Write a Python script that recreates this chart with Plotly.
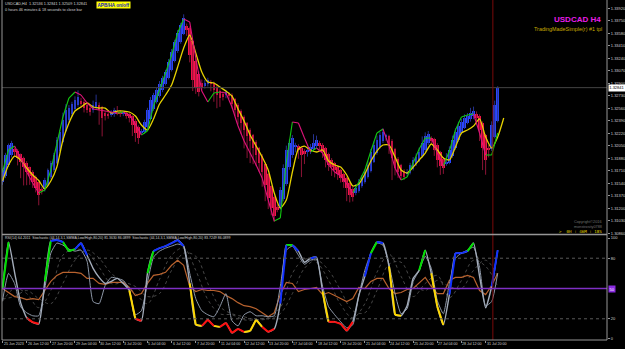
import plotly.graph_objects as go

# ---------------- DATA ----------------
first_open = 1.31560
closes = [1.31721,1.31925,1.32061,1.32088,1.31966,1.31884,1.31830,1.31761,1.31694,1.31639,
          1.31558,1.31477,1.31381,1.31449,1.31585,1.31721,1.31816,1.31925,1.32129,1.32238,
          1.32401,1.32537,1.32564,1.32619,1.32673,1.32714,1.32619,1.32564,1.32537,1.32510,
          1.32605,1.32646,1.32537,1.32428,1.32455,1.32469,1.32496,1.32537,1.32496,1.32483,
          1.32496,1.32469,1.32428,1.32333,1.32224,1.32156,1.32238,1.32374,1.32537,1.32673,
          1.32741,1.32809,1.32891,1.32972,1.33054,1.33190,1.33326,1.33462,1.33584,1.33693,
          1.33788,1.33625,1.33285,1.32945,1.32836,1.32782,1.32836,1.32904,1.32945,1.32891,
          1.32809,1.32741,1.32700,1.32727,1.32782,1.32727,1.32619,1.32537,1.32442,1.32360,
          1.32265,1.32183,1.32115,1.32020,1.31925,1.31816,1.31694,1.31517,1.31340,1.31204,
          1.31095,1.31177,1.31449,1.31748,1.31993,1.32088,1.32156,1.32061,1.31993,1.31925,
          1.31952,1.31993,1.32034,1.32088,1.32129,1.32047,1.31966,1.31857,1.31789,1.31761,
          1.31721,1.31667,1.31612,1.31558,1.31477,1.31381,1.31353,1.31477,1.31558,1.31612,
          1.31694,1.31789,1.31966,1.32061,1.32129,1.32197,1.32238,1.32183,1.32061,1.31884,
          1.31748,1.31694,1.31639,1.31626,1.31694,1.31789,1.31857,1.31898,1.31966,1.32088,
          1.32183,1.32211,1.32129,1.31993,1.31857,1.31775,1.31748,1.31830,1.31993,1.32129,
          1.32238,1.32319,1.32374,1.32428,1.32455,1.32496,1.32523,1.32428,1.32265,1.32020,
          1.31857,1.31993,1.32333,1.32605,1.32841]
# wick lengths in pips beyond the body
wick_up = [2,3,2,3,2,2,1,2,2,1, 2,2,1,2,3,2,3,3,4,3, 10,8,4,3,5,9,4,3,2,3,
           6,10,3,2,2,3,4,3,8,3, 2,2,2,1,2,2,4,3,3,4, 3,3,4,3,3,4,4,3,4,3,
           5,3,2,2,3,4,5,4,3,3, 2,3,2,4,3,2,2,2,2,2, 2,2,2,2,2,2,2,2,2,1,
           2,3,4,5,6,5,4,3,2,2, 3,3,4,12,6,3,2,2,2,2, 2,2,2,2,2,2,3,5,4,4,
           4,5,4,5,6,4,5,3,2,2, 2,2,2,2,4,3,4,5,6,9, 5,4,3,2,2,2,3,12,5,6,
           5,6,4,5,4,7,6,3,2,2, 2,4,5,6,2]
wick_dn = [4,3,2,3,6,10,22,25,18,12, 8,6,14,6,3,2,2,2,2,2, 2,2,3,3,2,3,5,6,4,5,
           4,3,20,25,6,5,3,4,3,4, 4,5,6,15,12,8,3,2,2,2, 2,2,2,3,2,2,2,2,2,2,
           2,8,10,15,8,6,3,4,3,10, 16,18,12,6,4,4,6,8,10,15, 25,30,30,22,15,12,20,22,15,10,
           8,3,2,3,3,4,4,8,12,30, 15,6,4,3,3,6,8,10,8,12, 10,8,6,8,18,10,6,3,3,2,
           2,2,2,2,2,3,3,6,12,30, 10,8,4,4,3,2,2,2,2,2, 3,3,5,8,10,12,8,3,2,2,
           2,2,2,2,2,3,4,8,15,30, 20,10,3,2,2]

# fast line (green rising / magenta falling), every 2nd bar
fast_line = [1.31694,1.31993,1.32047,1.31884,1.31694,1.31545,1.31408,1.31449,1.31721,1.32075,
             1.32442,1.32700,1.32782,1.32741,1.32632,1.32551,1.32537,1.32523,1.32510,1.32496,
             1.32510,1.32469,1.32347,1.32197,1.32251,1.32591,1.32809,1.33040,1.33285,1.33584,
             1.33775,1.33734,1.33244,1.32795,1.32646,1.32768,1.32782,1.32768,1.32578,1.32319,
             1.32115,1.31952,1.31789,1.31612,1.31313,1.31027,1.31068,1.31830,1.32374,1.32360,
             1.32156,1.31966,1.32020,1.31952,1.31789,1.31694,1.31639,1.31531,1.31408,1.31558,
             1.31721,1.31979,1.32224,1.32279,1.32047,1.31748,1.31585,1.31626,1.31816,1.32007,
             1.32156,1.32156,1.31952,1.31775,1.31979,1.32265,1.32442,1.32469,1.32483,1.32224,
             1.31925,1.31925,1.32224]
# slow (yellow) line, every 2nd bar, shifted 2 bars beyond the last candle
slow_line = [1.31571,1.31789,1.31911,1.31857,1.31748,1.31653,1.31578,1.31463,1.31571,1.31761,
             1.32129,1.32360,1.32523,1.32578,1.32632,1.32578,1.32564,1.32564,1.32496,1.32523,
             1.32523,1.32510,1.32455,1.32333,1.32265,1.32415,1.32619,1.32741,1.32877,1.33122,
             1.33380,1.33557,1.33312,1.33054,1.32918,1.32904,1.32850,1.32795,1.32727,1.32551,
             1.32387,1.32197,1.32047,1.31898,1.31721,1.31408,1.31204,1.31313,1.31694,1.32007,
             1.32047,1.31993,1.31966,1.31993,1.31843,1.31789,1.31761,1.31653,1.31504,1.31531,
             1.31667,1.31843,1.31979,1.32061,1.32061,1.31898,1.31721,1.31680,1.31761,1.31857,
             1.31952,1.32075,1.31993,1.31884,1.31857,1.32034,1.32224,1.32265,1.32319,1.32415,
             1.32170,1.32020,1.32170,1.32428]

# oscillator pane (every 2nd bar)
stoch_main = [50,96,66,36,21,16.5,15,57,97,98, 96,87,89,95,83,70,61,55,57,60,
              55,48,20,18,65,87,90,92,95,98, 92,55,14,13,19,13,12,16,6,10,
              7,8,19,12,7,10,35,93,93,87, 76,80,81,47,17,17,15,8,17,43,
              62,85,96,95,72,24,23,33,60,68, 88,65,32,14,44,85,85,87,95,62,
              31,52,88]
stoch_state = list("wgwwwrrwgb" "bggbbwwwww" "wwyrwgbbbb" "bwyyrryrrr"
                   "ryyyrrwbgb" "wwbwyrrrrw" "wbgbwyywww" "gwyywbbbgw" "wwb")
stoch_second = [38,65,55,32,26,23,23,50,85,95, 93,89,87,88,77,37,35,53,61,60,
                58,49,24,28,56,81,87,90,92,94, 92,65,40,28,24,22,32,45,18,13,
                24,27,23,23,22,23,52,88,92,83, 74,78,79,52,32,24,17,11,14,43,
                68,85,95,93,74,45,25,30,57,68, 82,70,38,25,55,80,85,88,91,71,
                33,37,65]
rsi = [50,46,42,41,39,40,39,48,57,63, 66,66,66,65,60,60,55,54,56,56,
       56,51,43,45,55,63,64,66,73,78, 73,52,47,49,48,48,47,43,40,36,
       33,32,30,26,22,26,44,56,55,47, 49,50,51,44,46,43,40,37,40,51,
       50,57,60,60,50,45,46,49,50,56, 61,52,45,45,58,61,61,63,61,48,
       44,53,65]
# signal (dotted) lines, every 4th bar
signal_a = [37,50,45,31,48,83,89,86,71,55,55,45,35,59,83,90,68,39,25,24,19,
            19,22,31,65,79,76,58,34,21,35,66,84,62,42,55,63,41,58,78,72,52]
signal_b = [40,42,48,40,35,55,78,88,80,65,57,52,42,45,68,85,82,55,32,25,22,
            19,20,25,45,70,78,68,48,28,26,48,74,76,55,48,58,52,50,68,78,62]

price_ticks = [1.33920,1.33750,1.33580,1.33410,1.33240,1.33070,1.32900,1.32730,1.32560,
               1.32390,1.32220,1.32050,1.31880,1.31710,1.31540,1.31370,1.31200,1.31030,1.30860]
current_price = 1.32841
osc_ticks = [0, 20, 80, 100]
date_labels = ["25 Jun 2023","26 Jun 12:00","27 Jun 20:00","29 Jun 04:00","30 Jun 12:00",
               "3 Jul 20:00","5 Jul 04:00","6 Jul 12:00","7 Jul 20:00","11 Jul 04:00",
               "12 Jul 12:00","13 Jul 20:00","17 Jul 04:00","18 Jul 12:00","19 Jul 20:00",
               "21 Jul 04:00","24 Jul 12:00","25 Jul 20:00","27 Jul 04:00","28 Jul 12:00",
               "31 Jul 20:00"]
label_step = 8
vline_bar = 162.4

# ---------------- BUILD ----------------
n = len(closes)
bars = list(range(n))
opens = [first_open]
for i in range(1, n):
    opens.append((opens[i - 1] + closes[i - 1]) / 2)   # APB / Heiken-Ashi open
PIP = 0.0001
highs = [max(o, c) + w * PIP for o, c, w in zip(opens, closes, wick_up)]
lows = [min(o, c) - w * PIP for o, c, w in zip(opens, closes, wick_dn)]
up = [c >= o for o, c in zip(opens, closes)]

UP_BODY, DN_BODY = "#2a46ff", "#f5124c"
UP_WICK, DN_WICK = "#26328f", "#8c1436"

fig = go.Figure()

for flag, col in ((True, UP_WICK), (False, DN_WICK)):
    xs, ys = [], []
    for i in bars:
        if up[i] == flag:
            xs += [i, i, None]
            ys += [lows[i], highs[i], None]
    fig.add_trace(go.Scatter(x=xs, y=ys, mode="lines", line=dict(color=col, width=1),
                             xaxis="x", yaxis="y", hoverinfo="skip"))

fig.add_trace(go.Bar(x=bars, y=[max(abs(c - o), 0.00006) for o, c in zip(opens, closes)],
                     base=[min(o, c) for o, c in zip(opens, closes)],
                     marker=dict(color=[UP_BODY if u else DN_BODY for u in up], line=dict(width=0)),
                     width=0.86, xaxis="x", yaxis="y"))

ma_bars = list(range(0, 2 * len(slow_line), 2))
fig.add_trace(go.Scatter(x=ma_bars, y=slow_line, mode="lines",
                         line=dict(color="#e6d200", width=1.3, shape="spline", smoothing=0.6),
                         xaxis="x", yaxis="y"))

fb = list(range(0, 2 * len(fast_line), 2))
for rising, col in ((True, "#12c812"), (False, "#e0137c")):
    xs, ys = [], []
    for j in range(len(fast_line) - 1):
        if (fast_line[j + 1] >= fast_line[j]) == rising:
            xs += [fb[j], fb[j + 1], None]
            ys += [fast_line[j], fast_line[j + 1], None]
    fig.add_trace(go.Scatter(x=xs, y=ys, mode="lines", line=dict(color=col, width=1.1),
                             xaxis="x", yaxis="y"))

# oscillator pane
ob = list(range(0, 2 * len(stoch_main), 2))
sb = list(range(0, 4 * len(signal_a), 4))
for sig in (signal_a, signal_b):
    fig.add_trace(go.Scatter(x=sb, y=sig, mode="lines",
                             line=dict(color="#4e4e4e", width=0.9, dash="dot", shape="spline"),
                             xaxis="x", yaxis="y2"))
fig.add_trace(go.Scatter(x=ob, y=rsi, mode="lines", line=dict(color="#b8622e", width=1.2),
                         xaxis="x", yaxis="y2"))
fig.add_trace(go.Scatter(x=ob, y=stoch_second, mode="lines",
                         line=dict(color="#8e98a8", width=1, shape="spline", smoothing=0.5),
                         xaxis="x", yaxis="y2"))
fig.add_trace(go.Scatter(x=ob, y=stoch_main, mode="lines",
                         line=dict(color="#a3acba", width=1.4, shape="spline", smoothing=0.5),
                         xaxis="x", yaxis="y2"))
state_col = {"g": "#00e000", "b": "#1030ff", "y": "#ffd800", "r": "#ff1010"}
for st, col in state_col.items():
    xs, ys = [], []
    for j in range(len(stoch_main) - 1):
        if stoch_state[j + 1] == st:
            xs += [ob[j], ob[j + 1], None]
            ys += [stoch_main[j], stoch_main[j + 1], None]
    fig.add_trace(go.Scatter(x=xs, y=ys, mode="lines", line=dict(color=col, width=2),
                             xaxis="x", yaxis="y2"))

GRID = "#969696"
TXT = "#d0d0d0"
FONT = "Liberation Sans, Arial, sans-serif"
top_dom = [0.3118, 1.0]
bot_dom = [0.0, 0.3059]

shapes = [
    dict(type="line", xref="paper", yref="y", x0=0, x1=1, y0=current_price, y1=current_price,
         line=dict(color="#444444", width=1)),
    dict(type="line", xref="x", yref="paper", x0=vline_bar, x1=vline_bar, y0=0, y1=1,
         line=dict(color="#7a0a0a", width=1)),
    dict(type="line", xref="paper", yref="y2", x0=0, x1=1, y0=80, y1=80,
         line=dict(color="#5a5a5a", width=1, dash="dot")),
    dict(type="line", xref="paper", yref="y2", x0=0, x1=1, y0=20, y1=20,
         line=dict(color="#5a5a5a", width=1, dash="dot")),
    dict(type="line", xref="paper", yref="y2", x0=0, x1=1, y0=50, y1=50,
         line=dict(color="#7e2fc4", width=1.6)),
    dict(type="line", xref="paper", yref="paper", x0=0, x1=0, y0=0, y1=1, line=dict(color=GRID, width=1)),
    dict(type="line", xref="paper", yref="paper", x0=1, x1=1, y0=0, y1=1, line=dict(color=GRID, width=1)),
    dict(type="line", xref="paper", yref="paper", x0=0, x1=1, y0=0, y1=0, line=dict(color=GRID, width=1)),
    dict(type="line", xref="paper", yref="paper", x0=0, x1=1, y0=0.3102, y1=0.3102,
         line=dict(color=GRID, width=1.5)),
]

ann = []
for k, lab in enumerate(date_labels):
    ann.append(dict(x=k * label_step, xref="x", y=-0.0125, yref="paper", text=lab,
                    showarrow=False, xanchor="left", yanchor="middle", xshift=-1,
                    font=dict(size=3.6, color=TXT, family=FONT)))
ann += [
    dict(x=0.0017, y=0.9885, xref="paper", yref="paper", xanchor="left", yanchor="middle",
         text="USDCAD,H4  1.32536 1.32841 1.32509 1.32841", showarrow=False,
         font=dict(size=3.8, color=TXT, family=FONT)),
    dict(x=0.0017, y=0.9705, xref="paper", yref="paper", xanchor="left", yanchor="middle",
         text="0 hours 46 minutes & 18 seconds to close bar", showarrow=False,
         font=dict(size=3.8, color=TXT, family=FONT)),
    dict(x=0.155, y=0.9855, xref="paper", yref="paper", xanchor="left", yanchor="middle",
         text="<b>APB/HA on/off</b>", showarrow=False, bgcolor="#ffff00", borderpad=0.5,
         font=dict(size=4.6, color="#1020c0", family=FONT)),
    dict(x=0.9934, y=0.943, xref="paper", yref="paper", xanchor="right", yanchor="middle",
         text="<b>USDCAD H4</b>", showarrow=False, font=dict(size=8, color="#e81ee8", family=FONT)),
    dict(x=0.995, y=0.9147, xref="paper", yref="paper", xanchor="right", yanchor="middle",
         text="TradingMadeSimple(r) #1 tpl", showarrow=False,
         font=dict(size=5.4, color="#c8aa00", family=FONT)),
    dict(x=0.995, y=0.347, xref="paper", yref="paper", xanchor="right", yanchor="middle",
         text="Copyright©2016", showarrow=False, font=dict(size=3.8, color="#707070", family=FONT)),
    dict(x=0.995, y=0.333, xref="paper", yref="paper", xanchor="right", yanchor="middle",
         text="monstrosity0788", showarrow=False, font=dict(size=3.8, color="#707070", family=FONT)),
    dict(x=0.995, y=0.3205, xref="paper", yref="paper", xanchor="right", yanchor="middle",
         text=">  0H : 46M : 18S", showarrow=False, font=dict(size=4.2, color="#e0d000", family="DejaVu Sans Mono")),
    dict(x=0.0017, y=0.2995, xref="paper", yref="paper", xanchor="left", yanchor="middle",
         text="RSI(14) 64.2011  Stochastic (44,14,3,1,SMMA,Low/High,80,20) 81.3630 86.0899  "
              "Stochastic (44,14,3,1,SMMA,Low/High,80,20) 83.7249 86.0899",
         showarrow=False, font=dict(size=3.5, color=TXT, family=FONT)),
    dict(x=1, y=current_price, xref="paper", yref="y", xanchor="left", yanchor="middle", xshift=1,
         text="1.32841", showarrow=False, bgcolor="#ffffff", borderpad=0.3,
         font=dict(size=4, color="#000000", family=FONT)),
    dict(x=1, y=50, xref="paper", yref="y2", xanchor="left", yanchor="middle", xshift=1,
         text="50", showarrow=False, bgcolor="#8a2be2", borderpad=0.5,
         font=dict(size=4, color="#ffffff", family=FONT)),
]

fig.update_layout(
    width=625, height=349, margin=dict(l=2, r=18, t=0, b=9),
    paper_bgcolor="#000000", plot_bgcolor="#000000", showlegend=False, bargap=0,
    xaxis=dict(domain=[0, 1], anchor="y2", range=[-0.17, 200.2], showgrid=False, zeroline=False,
               tickvals=[k * label_step for k in range(len(date_labels))], showticklabels=False,
               ticks="outside", ticklen=2, tickcolor=GRID, showline=False, fixedrange=True),
    yaxis=dict(domain=top_dom, anchor="x", side="right", range=[1.30851, 1.34033],
               showgrid=False, zeroline=False, tickvals=price_ticks,
               ticktext=[f"{p:.5f}" for p in price_ticks], ticks="outside", ticklen=2,
               tickcolor=GRID, tickfont=dict(size=4, color=TXT, family=FONT), automargin=False),
    yaxis2=dict(domain=bot_dom, anchor="x", side="right", range=[-1, 102],
                showgrid=False, zeroline=False, tickvals=osc_ticks,
                ticktext=[str(v) for v in osc_ticks], ticks="outside", ticklen=2,
                tickcolor=GRID, tickfont=dict(size=4, color=TXT, family=FONT), automargin=False),
    shapes=shapes, annotations=ann,
)

fig.write_html("out.html")
